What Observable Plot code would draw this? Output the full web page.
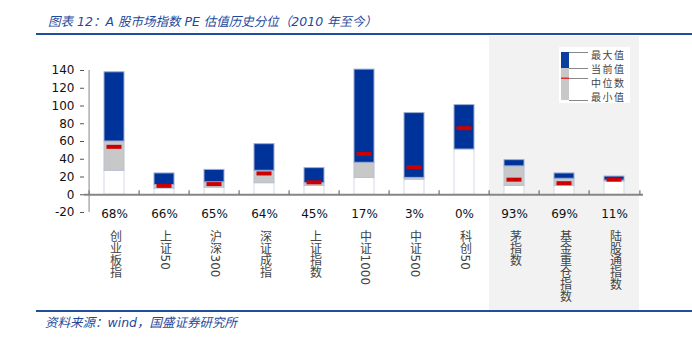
<!DOCTYPE html>
<html>
<head>
<meta charset="utf-8">
<script src="https://cdn.jsdelivr.net/npm/d3@7"></script>
<script src="https://cdn.jsdelivr.net/npm/@observablehq/plot@0.6"></script>
<style>
  html, body { margin: 0; padding: 0; background: #fff; }
  #wrap { position: relative; width: 692px; height: 341px; overflow: hidden; font-family: "DejaVu Sans", "Noto Sans CJK SC", sans-serif; }
  #title { position: absolute; left: 48px; top: 11px; font-size: 12.5px; font-style: italic; color: #1f4a9a; white-space: nowrap; font-family: "DejaVu Sans", "Noto Sans CJK SC", sans-serif; }
  #source { position: absolute; left: 45px; top: 312px; font-size: 12.5px; font-style: italic; color: #1f4a9a; white-space: nowrap; }
  .hline { position: absolute; left: 36px; width: 656px; height: 2px; background: #1f4e9a; }
  #chart { position: absolute; left: 0; top: 36px; }
  #legend { position: absolute; left: 559px; top: 47px; }
  .vname text { writing-mode: vertical-rl; text-orientation: mixed; }
</style>
</head>
<body>
<div id="wrap">
  <div id="title">图表 12：A 股市场指数 PE 估值历史分位（2010 年至今）</div>
  <div class="hline" style="top:33px"></div>
  <div id="chart"></div>
  <div class="hline" style="top:310px"></div>
  <div id="source">资料来源：wind，国盛证券研究所</div>
  <div id="legend"></div>
</div>
<script>
const categories = ["创业板指","上证50","沪深300","深证成指","上证指数","中证1000","中证500","科创50","茅指数","基金重仓指数","陆股通指数"];
const percentiles = ["68%","66%","65%","64%","45%","17%","3%","0%","93%","69%","11%"];
const maxVals     = [138, 24, 28, 57, 30, 141, 92, 101, 39, 24, 20.5];
const currentVals = [60, 11, 14, 27, 13, 36, 19, 51, 32, 18, 16];
const medianVals  = [54, 10, 12, 24, 14, 46, 31, 75, 17, 13, 17];
const minVals     = [27, 7, 8, 13, 10, 19, 17, 51, 10, 10, 15];
const yTicks = [-20, 0, 20, 40, 60, 80, 100, 120, 140];
const shadedCategories = ["茅指数","基金重仓指数","陆股通指数"];
const legendLabels = ["最大值","当前值","中位数","最小值"];

const data = categories.map((name, i) => ({
  name, pct: percentiles[i], max: maxVals[i], current: currentVals[i], median: medianVals[i], min: minVals[i]
}));

const W = 692, H = 276, mL = 84, mR = 49, mT = 34, mB = 100;
const step = (W - mL - mR) / categories.length;
const edgeCats = categories.concat([categories[categories.length - 1]]);

const plot = Plot.plot({
  width: W, height: H,
  marginLeft: mL, marginRight: mR, marginTop: mT, marginBottom: mB,
  style: {fontFamily: "DejaVu Sans, Noto Sans CJK SC, sans-serif", fontSize: "12px", color: "#111", background: "transparent", overflow: "visible"},
  x: {domain: categories, paddingInner: 0.6, paddingOuter: 0.3, axis: null},
  y: {domain: [-20, 140], axis: null},
  marks: [
    Plot.barY(data, {x: "name", y1: 0, y2: "min", fill: "#ffffff", stroke: "#d4d9e6", strokeWidth: 1}),
    Plot.barY(data, {x: "name", y1: "min", y2: "current", fill: "#c8c8c8", stroke: "#b7bfd6", strokeWidth: 1}),
    Plot.barY(data, {x: "name", y1: "current", y2: "max", fill: "#003399", stroke: "#9fadd2", strokeWidth: 1}),
    Plot.tickY(data, {x: "name", y: "median", stroke: "#cc0000", strokeWidth: 4, insetLeft: 2.5, insetRight: 2.5}),
    Plot.ruleY([0], {stroke: "#868686", strokeWidth: 2}),
    Plot.ruleX(categories, {x: d => d, dx: -step / 2, y1: 0, y2: 4.5, stroke: "#555", strokeWidth: 1}),
    Plot.ruleX([categories[categories.length - 1]], {x: d => d, dx: step / 2, y1: 0, y2: 4.5, stroke: "#555", strokeWidth: 1}),
    Plot.ruleX([categories[0]], {x: d => d, dx: -step / 2, y1: -20, y2: 140, stroke: "#868686", strokeWidth: 1}),
    Plot.axisY({ticks: yTicks, tickSize: 4, tickPadding: 6, tickFormat: d => String(d), stroke: "#555", fontSize: 12, fill: "#111"}),
    Plot.text(data, {x: "name", text: "pct", frameAnchor: "bottom", dy: 5, fontSize: 12, fill: "#111"}),
    Plot.text(data, {x: "name", text: "name", frameAnchor: "bottom", textAnchor: "start", dy: 18, fontSize: 12, fill: "#444", className: "vname"})
  ]
});

document.getElementById("chart").appendChild(plot);

// shaded background behind the last three categories, from the band scale
const xs = plot.scale("x");
const gap = xs.step - xs.bandwidth;
const sx0 = xs.apply(shadedCategories[0]) - gap / 2;
const sx1 = xs.apply(shadedCategories[shadedCategories.length - 1]) + xs.bandwidth + gap / 2;
d3.select(plot).insert("rect", ":first-child")
  .attr("x", sx0).attr("y", 0).attr("width", sx1 - sx0).attr("height", 274)
  .attr("fill", "#f2f2f2");

// legend
const lg = d3.select("#legend").append("svg").attr("width", 71).attr("height", 56)
  .style("background", "#fff");
lg.append("rect").attr("x", 2).attr("y", 5).attr("width", 8).attr("height", 16).attr("fill", "#0a3fa0");
lg.append("rect").attr("x", 2).attr("y", 21).attr("width", 8).attr("height", 32).attr("fill", "#c8c8c8");
lg.append("rect").attr("x", 2).attr("y", 30.5).attr("width", 8).attr("height", 1.5).attr("fill", "#e03030");
const lineYs = [5, 21, 31, 53];
const textYs = [8, 22, 36, 50];
lineYs.forEach((y, i) => {
  lg.append("line").attr("x1", 10).attr("x2", 29).attr("y1", y + 0.5).attr("y2", y + 0.5).attr("stroke", "#888").attr("stroke-width", 1);
  lg.append("text").attr("x", 32).attr("y", textYs[i]).attr("dy", "0.35em")
    .attr("font-size", 10).attr("letter-spacing", 1.5).attr("fill", "#444")
    .attr("font-family", "Noto Sans CJK SC, sans-serif").text(legendLabels[i]);
});
</script>
</body>
</html>
